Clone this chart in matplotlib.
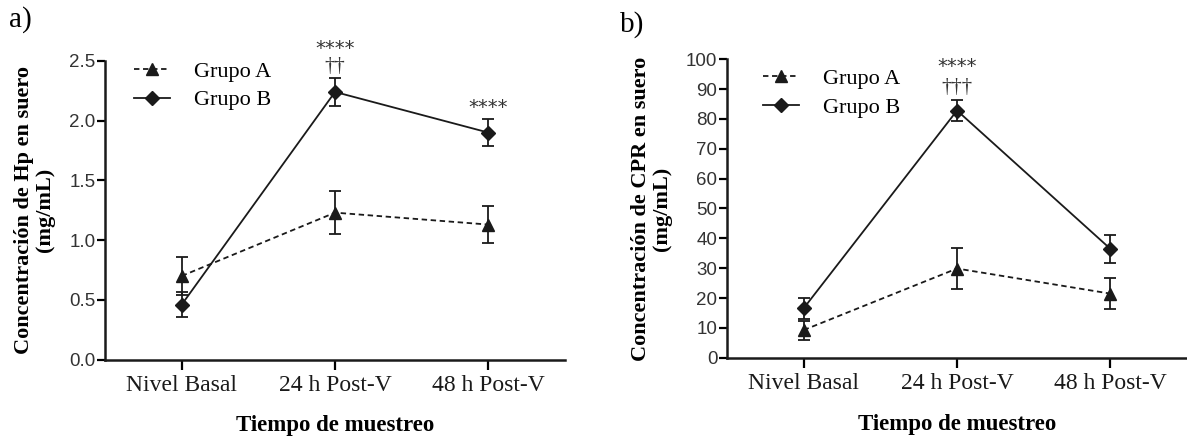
import numpy as np
import matplotlib
matplotlib.use('Agg')
import matplotlib.pyplot as plt
from matplotlib.lines import Line2D

# categories and data
categorias = ['Nivel Basal', '24 h Post-V', '48 h Post-V']

hp_grupo_a = [0.70, 1.23, 1.13]
hp_err_a = [0.16, 0.18, 0.155]
hp_grupo_b = [0.46, 2.24, 1.90]
hp_err_b = [0.105, 0.12, 0.11]

cpr_grupo_a = [9.3, 29.9, 21.5]
cpr_err_a = [3.2, 6.9, 5.2]
cpr_grupo_b = [16.6, 82.8, 36.5]
cpr_err_b = [3.5, 3.5, 4.75]

hp_ticks = [0.0, 0.5, 1.0, 1.5, 2.0, 2.5]
cpr_ticks = list(range(0, 101, 10))

SERIF = ['Liberation Serif', 'DejaVu Serif']
NARROW = ['Liberation Sans Narrow', 'Liberation Sans', 'DejaVu Sans']
INK = '#1a1a1a'
DASH = (0, (3, 2))


def draw_panel(ax, a_vals, a_err, b_vals, b_err, yticks, ylabel, tick_fmt):
	x = np.arange(len(categorias))
	ax.errorbar(x, a_vals, yerr=a_err, color=INK, lw=1.3, ls=DASH,
		marker='^', ms=8.5, capsize=4.5, capthick=1.3, elinewidth=1.3)
	ax.errorbar(x, b_vals, yerr=b_err, color=INK, lw=1.3, ls='-',
		marker='D', ms=7, capsize=4.5, capthick=1.3, elinewidth=1.3)

	ax.set_xlim(-0.5, 2.5)
	ax.set_ylim(yticks[0], yticks[-1])
	ax.set_yticks(yticks)
	ax.set_yticklabels([tick_fmt(t) for t in yticks], family=NARROW, fontsize=13.5, color='#333333')
	ax.set_xticks(x)
	ax.set_xticklabels(categorias, family=SERIF, fontsize=17, color=INK)
	ax.tick_params(axis='y', direction='out', length=6, width=1.6, pad=1)
	ax.tick_params(axis='x', direction='out', length=7, width=1.6, pad=4)

	for s in ['top', 'right']:
		ax.spines[s].set_visible(False)
	for s in ['left', 'bottom']:
		ax.spines[s].set_linewidth(1.8)
		ax.spines[s].set_color(INK)

	ax.set_xlabel('Tiempo de muestreo', family=SERIF, fontsize=16.5, fontweight='bold', labelpad=14)
	ax.set_ylabel(ylabel, family=SERIF, fontsize=16, fontweight='bold', labelpad=10, linespacing=1.05)

	handles = [Line2D([], [], color=INK, lw=1.3, ls=DASH, marker='^', ms=8.5),
		Line2D([], [], color=INK, lw=1.3, ls='-', marker='D', ms=7)]
	return handles


fig = plt.figure(figsize=(11.87, 4.38), dpi=100)

ax1 = fig.add_axes([0.0885, 0.179, 0.3875, 0.682])
h = draw_panel(ax1, hp_grupo_a, hp_err_a, hp_grupo_b, hp_err_b, hp_ticks,
	'Concentración de Hp en suero\n(mg/mL)', lambda t: '%.1f' % t)
ax1.legend(h, ['Grupo A', 'Grupo B'], loc='upper left', bbox_to_anchor=(0.02, 1.065), frameon=False,
	prop={'family': SERIF, 'size': 16}, handlelength=1.6, handletextpad=1.1, labelspacing=0.35)
ax1.text(1, 2.6, '****', ha='center', va='center', fontsize=14, family='DejaVu Sans', color='#333333', clip_on=False)
ax1.text(1, 2.455, '††', ha='center', va='center', fontsize=15, family=SERIF, color='#333333', clip_on=False)
ax1.text(2, 2.11, '****', ha='center', va='center', fontsize=14, family='DejaVu Sans', color='#333333')
fig.text(0.008, 0.955, 'a)', family=SERIF, fontsize=21, va='center', ha='left')

ax2 = fig.add_axes([0.6125, 0.183, 0.3875, 0.682])
h = draw_panel(ax2, cpr_grupo_a, cpr_err_a, cpr_grupo_b, cpr_err_b, cpr_ticks,
	'Concentración de CPR en suero\n(mg/mL)', lambda t: '%d' % t)
ax2.legend(h, ['Grupo A', 'Grupo B'], loc='upper left', bbox_to_anchor=(0.035, 1.035), frameon=False,
	prop={'family': SERIF, 'size': 16}, handlelength=1.6, handletextpad=1.1, labelspacing=0.35)
ax2.text(1, 97.5, '****', ha='center', va='center', fontsize=14, family='DejaVu Sans', color='#333333')
ax2.text(1, 90.5, '†††', ha='center', va='center', fontsize=15, family=SERIF, color='#333333')
fig.text(0.522, 0.945, 'b)', family=SERIF, fontsize=21, va='center', ha='left')

fig.savefig('out.png', dpi=100)
